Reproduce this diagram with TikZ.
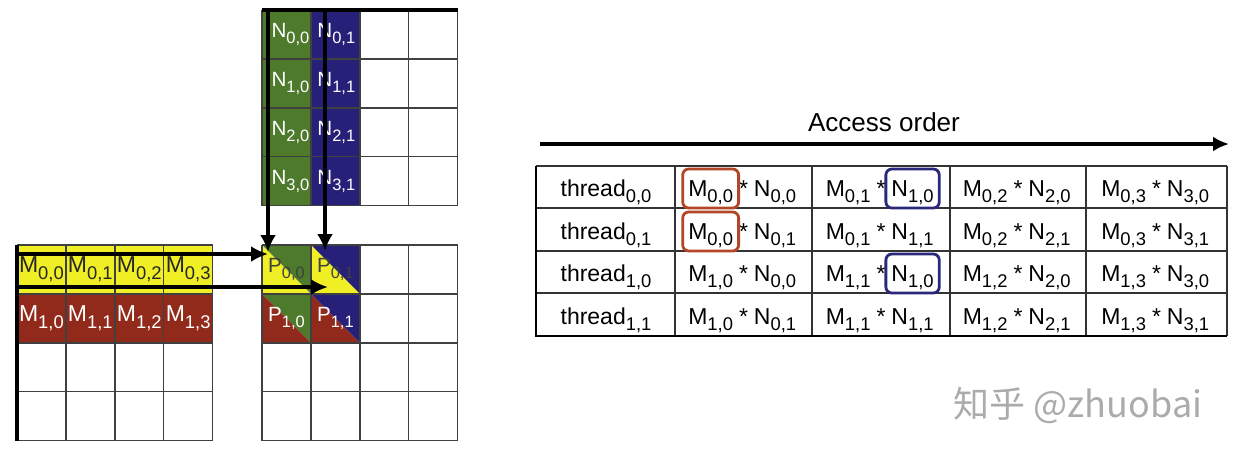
\documentclass[tikz,border=0pt]{standalone}
\usepackage{fontspec}
\setmainfont{Liberation Sans}
\newfontfamily\cjkfont{Noto Sans CJK SC}
\usepackage{graphicx}
\usetikzlibrary{arrows.meta}

\definecolor{ngreen}{RGB}{78,122,44}
\definecolor{nblue}{RGB}{38,32,120}
\definecolor{myellow}{RGB}{240,238,36}
\definecolor{mred}{RGB}{145,42,26}
\definecolor{boxred}{RGB}{178,70,38}
\definecolor{boxblue}{RGB}{42,40,122}
\newcommand{\ixs}[2]{#1\raisebox{-0.28em}{\scalebox{0.8}{#2}}}

\tikzset{
  grid line/.style={draw=black!75,line width=0.7pt},
  tbl line/.style={draw=black!80,line width=0.6pt},
  lbl/.style={font=\fontsize{11.5}{13}\selectfont,inner sep=0pt},
  small lbl/.style={font=\fontsize{10.3}{12}\selectfont,inner sep=0pt},
  term/.style={font=\fontsize{11.5}{13}\selectfont,inner xsep=2.6pt,inner ysep=0pt},
  hl/.style={rounded corners=3pt,line width=1.4pt},
  arr/.style={-{Latex[length=8.5pt,width=8pt]},line width=1.8pt}
}

\begin{document}
\begin{tikzpicture}[x=0.5pt,y=-0.5pt]
  \useasboundingbox (0,0) rectangle (1237,452);
  \def\cs{48.9}

  % matrix N
  \begin{scope}[shift={(262,10)}]
    \fill[ngreen] (0,0) rectangle (\cs,{4*\cs});
    \fill[nblue] (\cs,0) rectangle ({2*\cs},{4*\cs});
    \foreach \i in {0,...,4} {
      \draw[grid line] ({\i*\cs},0) -- ({\i*\cs},{4*\cs});
      \draw[grid line] (0,{\i*\cs}) -- ({4*\cs},{\i*\cs});
    }
    \foreach \r in {0,...,3} {
      \node[small lbl,text=white] (n\r0) at ({0.5*\cs+4},{(\r+0.5)*\cs}) {\ixs{N}{\r,0}};
      \node[small lbl,text=white] (n\r1) at ({1.5*\cs+1},{(\r+0.5)*\cs}) {\ixs{N}{\r,1}};
    }
    \draw[line width=1.6pt] (0,0) -- ({4*\cs},0);
  \end{scope}

  % matrix M
  \begin{scope}[shift={(17,245)}]
    \fill[myellow] (0,0) rectangle ({4*\cs},\cs);
    \fill[mred] (0,\cs) rectangle ({4*\cs},{2*\cs});
    \foreach \i in {0,...,4} {
      \draw[grid line] ({\i*\cs},0) -- ({\i*\cs},{4*\cs});
      \draw[grid line] (0,{\i*\cs}) -- ({4*\cs},{\i*\cs});
    }
    \foreach \c in {0,...,3} {
      \node[lbl,text=black!85] (m0\c) at ({(\c+0.5)*\cs},{0.5*\cs}) {\ixs{M}{0,\c}};
      \node[lbl,text=white] (m1\c) at ({(\c+0.5)*\cs},{1.5*\cs}) {\ixs{M}{1,\c}};
    }
    \draw[line width=1.6pt] (0,0) -- (0,{4*\cs});
  \end{scope}

  % matrix P
  \begin{scope}[shift={(262,245)}]
    \foreach \r/\mc in {0/myellow,1/mred}
      \foreach \c/\nc in {0/ngreen,1/nblue} {
        \fill[\nc] ({\c*\cs},{\r*\cs}) -- ++(\cs,0) -- ++(0,\cs) -- cycle;
        \fill[\mc] ({\c*\cs},{\r*\cs}) -- ++(0,\cs) -- ++(\cs,0) -- cycle;
      }
    \foreach \i in {0,...,4} {
      \draw[grid line] ({\i*\cs},0) -- ({\i*\cs},{4*\cs});
      \draw[grid line] (0,{\i*\cs}) -- ({4*\cs},{\i*\cs});
    }
    \node[small lbl,text=black!75] (p00) at ({0.5*\cs},{0.5*\cs}) {\ixs{P}{0,0}};
    \node[small lbl,text=black!75] (p01) at ({1.5*\cs},{0.5*\cs}) {\ixs{P}{0,1}};
    \node[small lbl,text=white] (p10) at ({0.5*\cs},{1.5*\cs}) {\ixs{P}{1,0}};
    \node[small lbl,text=white] (p11) at ({1.5*\cs},{1.5*\cs}) {\ixs{P}{1,1}};
  \end{scope}

  % arrows into P
  \coordinate (ncol0) at (268,9);
  \coordinate (pcol0) at (268,252);
  \coordinate (ncol1) at (325,9);
  \coordinate (pcol1) at (325,251);
  \coordinate (mrow0) at (17,254);
  \coordinate (prow0) at (268,254);
  \coordinate (mrow1) at (17,287);
  \coordinate (prow1) at (328,287);
  \draw[arr] (ncol0) -- (pcol0);
  \draw[arr] (ncol1) -- (pcol1);
  \draw[arr] (mrow0) -- (prow0);
  \draw[arr] (mrow1) -- (prow1);

  % access order
  \node[font=\fontsize{13}{15}\selectfont] (acc) at (884,122) {Access order};
  \coordinate (acc0) at (540,144);
  \coordinate (acc1) at (1229,144);
  \draw[-{Latex[length=8pt,width=7.5pt]},line width=2.4pt] (acc0) -- (acc1);

  % table
  \foreach \x in {675,812,950,1086,1227}
    \draw[tbl line] (\x,166) -- (\x,336);
  \foreach \y in {166,208,251,293}
    \draw[tbl line] (536,\y) -- (1227,\y);
  \draw[line width=1.3pt] (536,166) -- (536,336) -- (1227,336);

  \foreach \r/\i/\j/\yb in {0/0/0/196,1/0/1/239,2/1/0/281,3/1/1/324} {
    \node[lbl,anchor=base] (t\r) at (606,\yb) {\ixs{thread}{\i,\j}};
    \foreach \k/\xc in {0/743.5,1/881,2/1018,3/1156.5} {
      \node[lbl,anchor=base] (s\r\k) at (\xc,\yb) {*};
      \node[term,anchor=base east] (a\r\k) at (s\r\k.base west) {\ixs{M}{\i,\k}};
      \node[term,anchor=base west] (b\r\k) at (s\r\k.base east) {\ixs{N}{\k,\j}};
    }
  }
  \draw[hl,boxred] ([yshift=13.5pt]a00.base west) rectangle ([yshift=-6pt]a00.base east);
  \draw[hl,boxred] ([yshift=13.5pt]a10.base west) rectangle ([yshift=-6pt]a10.base east);
  \draw[hl,boxblue] ([yshift=13.5pt]b01.base west) rectangle ([yshift=-6pt]b01.base east);
  \draw[hl,boxblue] ([yshift=13.5pt]b21.base west) rectangle ([yshift=-6pt]b21.base east);

  % watermark
  \node[text=black!33,font=\cjkfont\fontsize{18}{20}\selectfont] (mark) at (1078,405) {知乎 @zhuobai};
\end{tikzpicture}
\end{document}
